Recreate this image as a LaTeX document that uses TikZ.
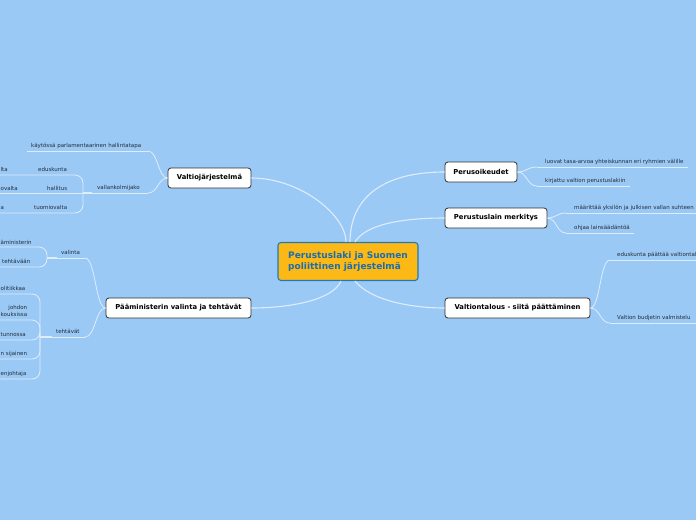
\documentclass[tikz,border=0pt]{standalone}
\usepackage{fontspec}
\setmainfont{DejaVu Sans}
\definecolor{bg}{RGB}{155,201,245}
\definecolor{lineclr}{RGB}{222,237,252}
\definecolor{cfill}{RGB}{252,184,21}
\definecolor{cborder}{RGB}{31,122,185}
\definecolor{ctext}{RGB}{26,110,176}
\definecolor{tborder}{RGB}{50,50,50}
\definecolor{subtext}{RGB}{35,45,58}
\begin{document}
\begin{tikzpicture}[x=1pt,y=-1pt,
  topic/.style={draw=tborder, line width=0.8pt, fill=white, rounded corners=3pt,
    font=\fontsize{6.8}{8}\selectfont\bfseries, text=black, inner sep=0pt, minimum height=20pt},
  central/.style={draw=cborder, line width=1.1pt, fill=cfill, rounded corners=3pt,
    font=\fontsize{9}{11.3}\selectfont\bfseries, text=ctext, inner sep=0pt,
    minimum width=140pt, minimum height=38pt, align=left},
  sub/.style={font=\fontsize{5.5}{6.2}\selectfont, text=subtext, inner sep=0pt, anchor=base west},
  frag/.style={sub, anchor=base east},
  conn/.style={draw=lineclr, line width=1.1pt},
  subl/.style={draw=lineclr, line width=0.8pt},
  stub/.style={draw=lineclr, line width=2pt},
  corner/.style={subl, rounded corners=8pt},
]
\useasboundingbox (0,0) rectangle (696,520);
\fill[bg] (0,0) rectangle (696,520);
\clip (0,0) rectangle (696,520);

% ---------- nodes ----------
\node[central] (C) at (348,261.5) {Perustuslaki ja Suomen\\poliittinen järjestelmä};
\node[topic, minimum width=83pt] (V) at (209.5,178) {Valtiojärjestelmä};
\node[topic, minimum width=145pt] (P) at (178.5,308) {Pääministerin valinta ja tehtävät};
\node[topic, minimum width=72pt] (O) at (481,172) {Perusoikeudet};
\node[topic, minimum width=102pt] (M) at (496,218) {Perustuslain merkitys};
\node[topic, minimum width=145pt] (T) at (517.5,308) {Valtiontalous - siitä päättäminen};

% central connector ends
\coordinate (cV) at (346,242);
\coordinate (cO) at (350,242);
\coordinate (cM) at (355,242);
\coordinate (cP) at (341,281);
\coordinate (cT) at (355,281);

\draw[conn] (V.east) .. controls (300,178) and (346,215) .. (cV);
\draw[conn] (O.west) .. controls (380,172) and (350,200) .. (cO);
\draw[conn] (M.west) .. controls (400,218) and (365,225) .. (cM);
\draw[conn] (P.east) .. controls (290,308) and (333,300) .. (cP);
\draw[conn] (T.west) .. controls (410,308) and (370,300) .. (cT);

% ---------- Valtiojärjestelmä ----------
\node[sub] (k1) at (31,147) {käytössä parlamentaarinen hallintatapa};
\node[sub] (vk) at (97,189) {vallankolmijako};
\node[sub] (ed) at (38,171) {eduskunta};
\node[sub] (ha) at (47,190) {hallitus};
\node[sub] (tu) at (34,209) {tuomiovalta};
\node[sub] (f1) at (0.5,171) {lta};
\node[sub] (f2) at (0.5,190) {ovalta};
\node[sub] (f3) at (0.5,209) {a};

\coordinate (k1l) at (27,151);  \coordinate (k1r) at (148,151);
\coordinate (vkj) at (83,193);  \coordinate (vks) at (92,193); \coordinate (vkr) at (148,193);
\coordinate (edl) at (0,175);   \coordinate (hal) at (0,193);  \coordinate (tul) at (0,213);

\draw[subl] (k1l) -- (k1r);
\draw[subl] (vks) -- (vkr);
\draw[stub] (vkj) -- (vks);
\draw[subl] (V.west) .. controls (158,178) and (158,151) .. (k1r);
\draw[subl] (V.west) .. controls (158,178) and (158,193) .. (vkr);
\draw[corner] (vkj) |- (edl);
\draw[subl] (vkj) -- (hal);
\draw[corner] (vkj) |- (tul);

% ---------- Pääministerin valinta ja tehtävät ----------
\node[sub] (va) at (61,254) {valinta};
\node[sub] (te) at (56,333) {tehtävät};
\node[sub] (f4) at (0.5,244) {äministerin};
\node[sub] (f5) at (2,263) {tehtävään};
\node[sub] (f6) at (0.5,290) {olitiikkaa};
\node[sub, anchor=west, align=right] (f7) at (0.5,311) {johdon\\kouksissa};
\node[sub] (f8) at (0.5,336) {tunnossa};
\node[sub] (f9) at (0.5,355) {n sijainen};
\node[sub] (f10) at (0.5,375) {enjohtaja};

\coordinate (vaj) at (47,258); \coordinate (vas) at (57,258); \coordinate (var) at (85,258);
\coordinate (tej) at (40,337); \coordinate (tes) at (52,337); \coordinate (ter) at (85,337);

\draw[subl] (vas) -- (var);
\draw[stub] (vaj) -- (vas);
\draw[subl] (tes) -- (ter);
\draw[stub] (tej) -- (tes);
\draw[subl] (P.west) .. controls (95.5,308) and (95.5,258) .. (var);
\draw[subl] (P.west) .. controls (95.5,308) and (95.5,337) .. (ter);
\draw[corner] (vaj) |- (0,247);
\draw[corner] (vaj) |- (0,267);
\draw[corner] (tej) |- (0,294);
\draw[corner] (tej) |- (0,320);
\draw[corner] (tej) |- (0,340);
\draw[corner] (tej) |- (0,359);
\draw[corner] (tej) |- (0,379);

% ---------- right side ----------
\node[sub] (lu) at (545,163) {luovat tasa-arvoa yhteiskunnan eri ryhmien välille};
\node[sub] (ki) at (545,182) {kirjattu valtion perustuslakiin};
\node[sub] (ma) at (574,209) {määrittää yksilön ja julkisen vallan suhteen};
\node[sub] (oh) at (574,229) {ohjaa lainsäädäntöä};
\node[sub] (ep) at (617,256) {eduskunta päättää valtiontal};
\node[sub] (vb) at (617,319) {Valtion budjetin valmistelu};

\coordinate (lul) at (537,167); \coordinate (lur) at (688,167);
\coordinate (kil) at (537,186); \coordinate (kir) at (630,186);
\coordinate (mal) at (566,213); \coordinate (mar) at (696,213);
\coordinate (ohl) at (566,233); \coordinate (ohr) at (634,233);
\coordinate (epl) at (610,260); \coordinate (epr) at (696,260);
\coordinate (vbl) at (610,323); \coordinate (vbr) at (696,323);

\draw[subl] (lul) -- (lur);
\draw[subl] (kil) -- (kir);
\draw[subl] (mal) -- (mar);
\draw[subl] (ohl) -- (ohr);
\draw[subl] (epl) -- (epr);
\draw[subl] (vbl) -- (vbr);
\draw[subl] (O.east) .. controls (527,172) and (527,167) .. (lul);
\draw[subl] (O.east) .. controls (527,172) and (527,186) .. (kil);
\draw[subl] (M.east) .. controls (556.5,218) and (556.5,213) .. (mal);
\draw[subl] (M.east) .. controls (556.5,218) and (556.5,233) .. (ohl);
\draw[subl] (T.east) .. controls (600,308) and (600,260) .. (epl);
\draw[subl] (T.east) .. controls (600,308) and (600,323) .. (vbl);
\end{tikzpicture}
\end{document}
